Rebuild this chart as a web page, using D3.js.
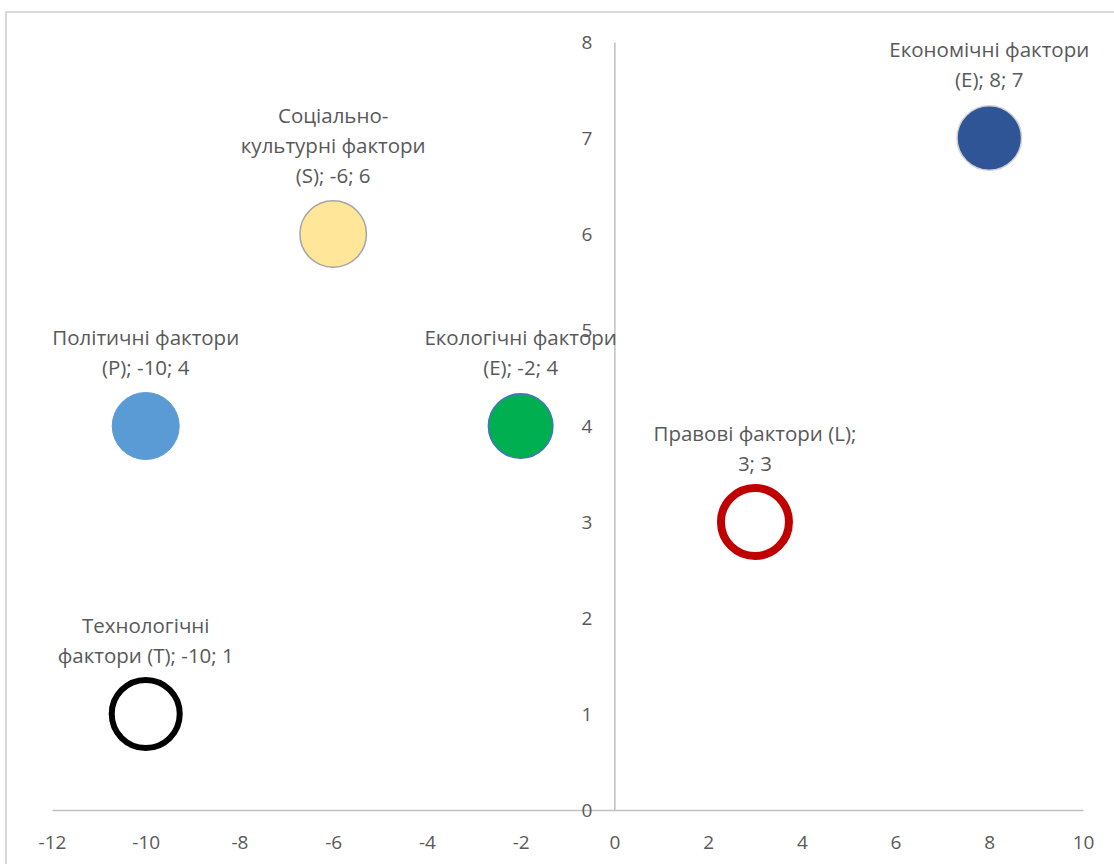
<!DOCTYPE html>
<html><head><meta charset="utf-8">
<script src="https://cdn.jsdelivr.net/npm/d3@7"></script>
<style>body{margin:0;background:#fff;} svg{display:block;}</style>
</head><body>
<svg id="c" width="1114" height="864"></svg>
<script>
const names = ["Економічні фактори (E)", "Соціально-культурні фактори (S)", "Політичні фактори (P)", "Екологічні фактори (E)", "Правові фактори (L)", "Технологічні фактори (T)"];
const xVals = [8, -6, -10, -2, 3, -10];
const yVals = [7, 6, 4, 4, 3, 1];
const labelLines = [
  ["Економічні фактори", "(E); 8; 7"],
  ["Соціально-", "культурні фактори", "(S); -6; 6"],
  ["Політичні фактори", "(P); -10; 4"],
  ["Екологічні фактори", "(E); -2; 4"],
  ["Правові фактори (L);", "3; 3"],
  ["Технологічні", "фактори (T); -10; 1"]
];
const xTicks = [-12, -10, -8, -6, -4, -2, 0, 2, 4, 6, 8, 10];
const yTicks = [0, 1, 2, 3, 4, 5, 6, 7, 8];

const styles = [
  {fill: "#2f5597", stroke: "#d0d0d0", sw: 1.5, r: 33},
  {fill: "#ffe699", stroke: "#a5a5a5", sw: 1.5, r: 34},
  {fill: "#5b9bd5", stroke: "#5b9bd5", sw: 1, r: 34},
  {fill: "#00b050", stroke: "#4472c4", sw: 1.5, r: 33},
  {fill: "#ffffff", stroke: "#c00000", sw: 8, r: 38},
  {fill: "#ffffff", stroke: "#000000", sw: 6, r: 37}
];

const svg = d3.select("#c");
const font = "Open Sans, sans-serif";
const textCol = "#595959";
const fmt = d => String(d);

// outer border
svg.append("rect").attr("x", 6).attr("y", 12).attr("width", 1120).attr("height", 870)
  .attr("fill", "none").attr("stroke", "#d9d9d9").attr("stroke-width", 2);

const x = d3.scaleLinear().domain([-12, 10]).range([52, 1083]);
const y = d3.scaleLinear().domain([0, 8]).range([810, 42]);

const xAxis = d3.axisBottom(x).tickValues(xTicks).tickSize(0).tickPadding(26).tickFormat(fmt);
const gx = svg.append("g").attr("transform", `translate(0,${y(0)})`).call(xAxis);
gx.select(".domain").attr("stroke", "#bfbfbf").attr("stroke-width", 1.5);
gx.selectAll("text").attr("font-family", font).attr("font-size", 19).attr("fill", textCol);

const yAxis = d3.axisLeft(y).tickValues(yTicks).tickSize(0).tickPadding(22).tickFormat(fmt);
const gy = svg.append("g").attr("transform", `translate(${x(0)},0)`).call(yAxis);
gy.select(".domain").attr("stroke", "#bfbfbf").attr("stroke-width", 1.5);
gy.selectAll("text").attr("font-family", font).attr("font-size", 19).attr("fill", textCol);

const data = names.map((n, i) => ({name: n, x: xVals[i], y: yVals[i], lines: labelLines[i], st: styles[i]}));

svg.append("g").selectAll("circle").data(data).join("circle")
  .attr("cx", d => x(d.x)).attr("cy", d => y(d.y))
  .attr("r", d => d.st.r - d.st.sw / 2)
  .attr("fill", d => d.st.fill).attr("stroke", d => d.st.stroke).attr("stroke-width", d => d.st.sw);

const lg = svg.append("g");
data.forEach(d => {
  const n = d.lines.length;
  d.lines.forEach((ln, j) => {
    lg.append("text")
      .attr("x", x(d.x)).attr("y", y(d.y) - 51 - (n - 1 - j) * 30)
      .attr("text-anchor", "middle").attr("font-family", font).attr("font-size", 20.5)
      .attr("fill", textCol).text(ln);
  });
});
</script>
</body></html>
